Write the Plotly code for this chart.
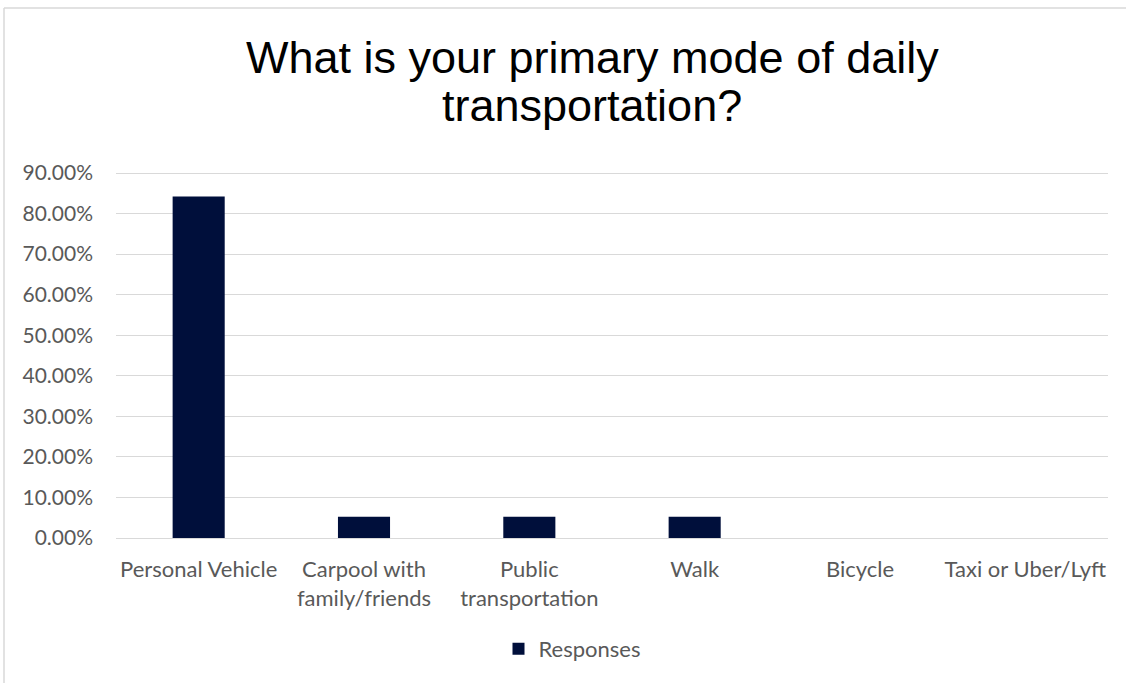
import plotly.graph_objects as go

categories = ["Personal Vehicle", "Carpool with<br>family/friends", "Public<br>transportation",
              "Walk", "Bicycle", "Taxi or Uber/Lyft"]
responses = [0.8421, 0.0526, 0.0526, 0.0526, 0.0, 0.0]
tick_vals = [0, 0.1, 0.2, 0.3, 0.4, 0.5, 0.6, 0.7, 0.8, 0.9]
tick_text = ["0.00%", "10.00%", "20.00%", "30.00%", "40.00%", "50.00%",
             "60.00%", "70.00%", "80.00%", "90.00%"]
title_lines = ["What is your primary mode of daily", "transportation?"]

W, H = 1126, 683
L, R, T, B = 116, 18, 171, 145
pw, ph = W - L - R, H - T - B

fig = go.Figure()
fig.add_trace(go.Bar(x=categories, y=responses, name="Responses",
                     marker=dict(color="#000F3B", line=dict(width=0)),
                     width=0.315))

def px_x(p):
    return (p - L) / pw

def px_y(p):
    return (H - B - p) / ph

border = "#D9D9D9"
annotations = []
for line, cy in zip(title_lines, [57, 106]):
    annotations.append(dict(text=line, xref="paper", yref="paper",
                            x=px_x(592), y=px_y(cy), xanchor="center", yanchor="middle",
                            showarrow=False,
                            font=dict(family="Liberation Sans, Arial", size=45, color="#000000")))

fig.update_layout(
    width=W, height=H,
    margin=dict(l=L, r=R, t=T, b=B),
    paper_bgcolor="white", plot_bgcolor="white",
    font=dict(family="Lato, Calibri, sans-serif", size=22, color="#595959"),
    showlegend=True,
    legend=dict(orientation="h", x=px_x(572), xanchor="center",
                y=px_y(649), yanchor="middle",
                font=dict(family="Lato, Calibri, sans-serif", size=22, color="#595959")),
    xaxis=dict(showgrid=False, showline=True, linecolor=border, linewidth=1,
               ticks="", ticklabelstandoff=12, tickfont=dict(size=22, color="#595959")),
    yaxis=dict(range=[0, 0.905], tickvals=tick_vals, ticktext=tick_text,
               showgrid=True, gridcolor=border, gridwidth=1, zeroline=False,
               showline=False, ticks="", ticklabelstandoff=22,
               tickfont=dict(size=21, color="#595959")),
    bargap=0.685,
    annotations=annotations,
    shapes=[
        dict(type="line", xref="paper", yref="paper", x0=px_x(4), x1=px_x(W + 5),
             y0=px_y(8), y1=px_y(8), line=dict(color=border, width=1.5)),
        dict(type="line", xref="paper", yref="paper", x0=px_x(4), x1=px_x(4),
             y0=px_y(8), y1=px_y(H + 5), line=dict(color=border, width=1.5)),
    ],
)
fig.write_html("out.html", config={"displayModeBar": False},
               post_script="document.body.style.margin='0';")
